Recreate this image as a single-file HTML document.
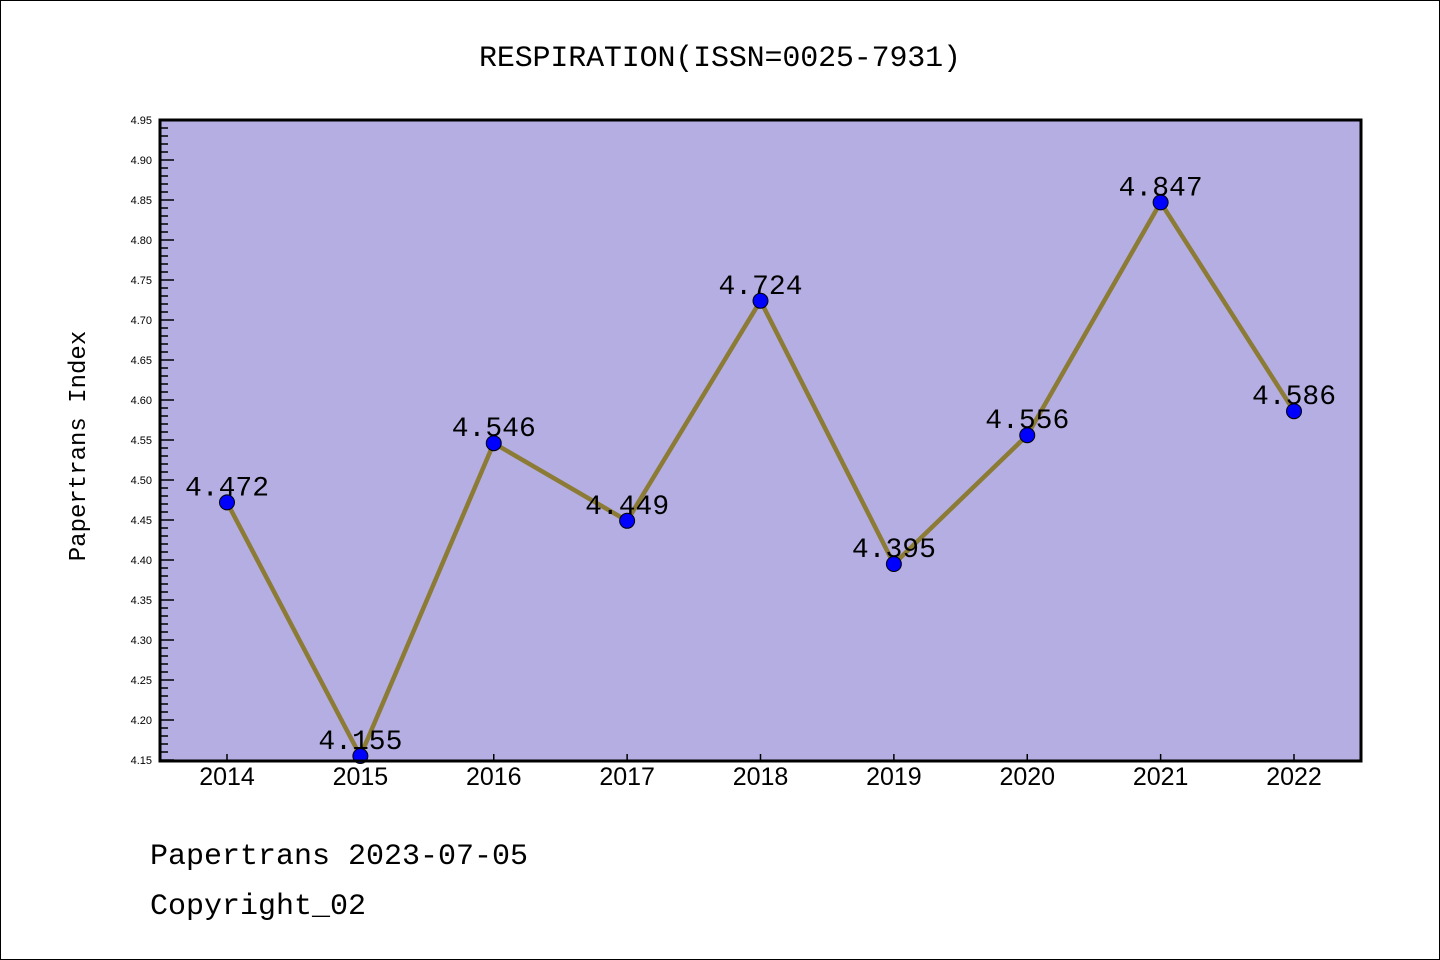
<!DOCTYPE html>
<html><head><meta charset="utf-8"><style>
body{margin:0;background:#fff}
svg{display:block}
text{font-family:"Liberation Mono","DejaVu Sans Mono",monospace;fill:#000}
.sans{font-family:"Liberation Sans","DejaVu Sans",sans-serif}
</style></head><body>
<svg id="chart" width="1440" height="960" xmlns="http://www.w3.org/2000/svg">
<rect x="0.5" y="0.5" width="1439" height="959" fill="#fff" stroke="#000"/>
<text x="720" y="66" font-size="30" text-anchor="middle" textLength="482">RESPIRATION(ISSN=0025-7931)</text>
<rect x="160" y="120" width="1201" height="641" fill="#b5aee2"/>
<g id="yaxis"></g>
<g id="xaxis"></g>
<g id="series"></g>
<rect x="160" y="120" width="1201" height="641" fill="none" stroke="#000" stroke-width="3"/>
<text x="85" y="446" font-size="24" text-anchor="middle" transform="rotate(-90 85 446)">Papertrans Index</text>
<text x="150" y="864" font-size="30">Papertrans 2023-07-05</text>
<text x="150" y="914" font-size="30">Copyright_02</text>
</svg>
<script>
const years=["2014","2015","2016","2017","2018","2019","2020","2021","2022"];
const values=[4.472,4.155,4.546,4.449,4.724,4.395,4.556,4.847,4.586];
const labels=["4.472","4.155","4.546","4.449","4.724","4.395","4.556","4.847","4.586"];
const yMin=4.15,yMax=4.95;
const ns="http://www.w3.org/2000/svg";
function X(i){return 227+i*(1294-227)/(years.length-1);}
function Y(v){return 760-(v-yMin)/(yMax-yMin)*640;}
function mk(t,a,p){const e=document.createElementNS(ns,t);for(const k in a)e.setAttribute(k,a[k]);p.appendChild(e);return e;}
const ya=document.getElementById('yaxis'),xa=document.getElementById('xaxis'),se=document.getElementById('series');
for(let k=0;k<=80;k++){
  const v=yMin+k*0.01,y=Y(v),major=k%5===0;
  const l=mk('line',{x1:160,x2:160+(major?14:8),y1:y,y2:y,stroke:'#000','stroke-width':1.5},ya);
  
  
  if(major){const t=mk('text',{x:152,y:y+4,'font-size':11,'text-anchor':'end','class':'sans'},ya);t.textContent=v.toFixed(2);
  
  }
}
years.forEach((yr,i)=>{
  const x=X(i);
  const l=mk('line',{x1:x,x2:x,y1:760,y2:754,stroke:'#000','stroke-width':1.5},xa);
  
  
  const t=mk('text',{x:x,y:785,'font-size':25,'text-anchor':'middle','class':'sans'},xa);t.textContent=yr;
  
  
});
const pl=mk('polyline',{points:values.map((v,i)=>X(i)+','+Y(v)).join(' '),fill:'none',stroke:'#8b7b35','stroke-width':4.5},se);


values.forEach((v,i)=>{
  const c=mk('circle',{cx:X(i),cy:Y(v),r:7.5,fill:'#0000ff',stroke:'#000','stroke-width':1},se);
  
  
  const t=mk('text',{x:X(i),y:Y(v)-7,'font-size':28,'text-anchor':'middle'},se);t.textContent=labels[i];
  
  
});
</script>
</body></html>
